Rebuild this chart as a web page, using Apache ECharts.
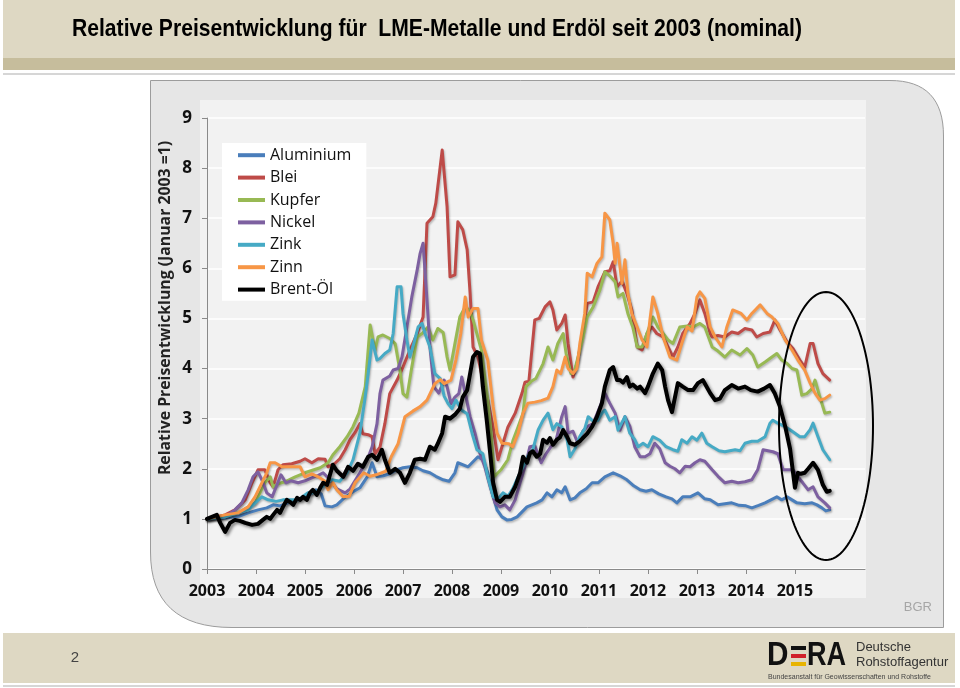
<!DOCTYPE html>
<html><head><meta charset="utf-8">
<script src="https://cdn.jsdelivr.net/npm/echarts@6/dist/echarts.min.js"></script>
<style>html,body{margin:0;padding:0;background:#fff}#c{width:960px;height:688px}</style>
</head><body><div id="c"></div>
<script>
const titleText = 'Relative Preisentwicklung für  LME-Metalle und Erdöl seit 2003 (nominal)';
const yAxisTitle = 'Relative Preisentwicklung (Januar 2003 =1)';
const seriesNames = ['Aluminium','Blei','Kupfer','Nickel','Zink','Zinn','Brent-Öl'];
const seriesColors = ['#4a7ebb','#be4b48','#98b954','#7d60a0','#46aac5','#f79646','#000000'];
const yearTicks = [2003,2004,2005,2006,2007,2008,2009,2010,2011,2012,2013,2014,2015];

const aluminium = [[2003.0,1.0],[2003.37,1.02],[2003.65,1.05],[2003.84,1.12],[2004.04,1.18],[2004.22,1.22],[2004.35,1.28],[2004.49,1.26],[2004.65,1.32],[2004.8,1.36],[2004.96,1.42],[2005.12,1.5],[2005.22,1.58],[2005.33,1.5],[2005.41,1.26],[2005.55,1.24],[2005.65,1.28],[2005.78,1.4],[2005.94,1.52],[2006.12,1.62],[2006.27,1.84],[2006.37,2.12],[2006.47,1.84],[2006.6,1.86],[2006.73,1.9],[2006.88,1.98],[2007.0,2.02],[2007.14,2.04],[2007.29,2.02],[2007.41,1.96],[2007.55,1.92],[2007.67,1.85],[2007.82,1.78],[2007.94,1.75],[2008.06,1.92],[2008.12,2.12],[2008.33,2.04],[2008.53,2.24],[2008.63,2.18],[2008.73,1.92],[2008.82,1.52],[2008.92,1.18],[2009.02,1.04],[2009.12,0.98],[2009.22,0.99],[2009.33,1.04],[2009.53,1.24],[2009.73,1.32],[2009.84,1.38],[2009.94,1.52],[2010.04,1.44],[2010.14,1.58],[2010.24,1.52],[2010.31,1.64],[2010.41,1.38],[2010.51,1.42],[2010.61,1.52],[2010.74,1.6],[2010.86,1.72],[2010.98,1.72],[2011.12,1.84],[2011.29,1.92],[2011.43,1.86],[2011.57,1.78],[2011.71,1.66],[2011.84,1.58],[2011.96,1.55],[2012.08,1.58],[2012.22,1.5],[2012.37,1.44],[2012.49,1.4],[2012.59,1.32],[2012.71,1.44],[2012.86,1.44],[2013.02,1.52],[2013.16,1.4],[2013.27,1.38],[2013.43,1.28],[2013.57,1.3],[2013.71,1.32],[2013.86,1.27],[2014.0,1.26],[2014.12,1.22],[2014.26,1.27],[2014.39,1.32],[2014.51,1.38],[2014.63,1.44],[2014.73,1.38],[2014.84,1.44],[2014.94,1.38],[2015.04,1.32],[2015.2,1.3],[2015.35,1.32],[2015.45,1.28],[2015.55,1.22],[2015.63,1.16],[2015.71,1.18]];

const blei = [[2003.0,1.0],[2003.37,1.08],[2003.57,1.18],[2003.78,1.38],[2003.92,1.72],[2004.04,1.98],[2004.18,1.98],[2004.29,1.72],[2004.35,1.64],[2004.45,1.98],[2004.55,2.08],[2004.73,2.1],[2004.9,2.15],[2005.0,2.2],[2005.14,2.12],[2005.27,2.2],[2005.41,2.19],[2005.47,2.04],[2005.6,2.1],[2005.71,2.2],[2005.82,2.38],[2005.92,2.58],[2006.02,2.72],[2006.12,2.9],[2006.18,2.7],[2006.29,2.68],[2006.37,2.64],[2006.43,2.3],[2006.53,2.43],[2006.63,2.9],[2006.73,3.5],[2006.88,3.77],[2007.0,4.03],[2007.14,4.37],[2007.29,4.7],[2007.41,5.03],[2007.49,6.9],[2007.61,7.03],[2007.67,7.3],[2007.8,8.36],[2007.9,7.23],[2007.96,5.83],[2008.06,5.87],[2008.12,6.93],[2008.22,6.77],[2008.31,6.37],[2008.37,5.5],[2008.43,4.43],[2008.53,4.23],[2008.63,3.77],[2008.73,3.37],[2008.84,2.83],[2008.94,2.18],[2009.02,2.44],[2009.14,2.83],[2009.29,3.11],[2009.43,3.51],[2009.49,3.73],[2009.57,3.75],[2009.69,4.97],[2009.78,5.0],[2009.9,5.23],[2010.0,5.33],[2010.06,5.17],[2010.14,4.77],[2010.24,4.9],[2010.31,5.07],[2010.37,4.5],[2010.47,3.83],[2010.57,4.17],[2010.67,4.75],[2010.76,5.3],[2010.88,5.33],[2010.98,5.63],[2011.12,5.93],[2011.22,5.95],[2011.29,6.13],[2011.37,5.63],[2011.47,5.75],[2011.57,5.5],[2011.67,5.17],[2011.78,4.43],[2011.88,4.37],[2011.98,4.7],[2012.08,4.83],[2012.18,4.7],[2012.31,4.63],[2012.41,4.43],[2012.51,4.23],[2012.61,4.43],[2012.71,4.7],[2012.86,4.9],[2012.96,5.1],[2013.06,5.37],[2013.16,5.1],[2013.27,4.7],[2013.31,4.63],[2013.43,4.66],[2013.57,4.63],[2013.71,4.73],[2013.84,4.7],[2013.98,4.8],[2014.12,4.77],[2014.22,4.63],[2014.35,4.7],[2014.49,4.73],[2014.59,4.97],[2014.69,4.78],[2014.84,4.53],[2014.96,4.4],[2015.1,4.17],[2015.2,4.03],[2015.31,4.5],[2015.37,4.5],[2015.47,4.1],[2015.57,3.9],[2015.71,3.77]];

const kupfer = [[2003.0,1.0],[2003.4,1.05],[2003.7,1.15],[2003.98,1.32],[2004.18,1.72],[2004.29,1.84],[2004.35,1.64],[2004.45,1.7],[2004.59,1.74],[2004.8,1.84],[2005.0,1.92],[2005.15,1.97],[2005.31,2.02],[2005.47,2.12],[2005.57,2.28],[2005.71,2.44],[2005.86,2.64],[2005.98,2.84],[2006.1,3.11],[2006.23,3.64],[2006.33,4.87],[2006.43,4.37],[2006.49,4.63],[2006.59,4.67],[2006.73,4.6],[2006.84,4.5],[2006.94,3.95],[2007.0,3.5],[2007.08,3.43],[2007.18,4.03],[2007.29,4.63],[2007.39,4.7],[2007.51,4.83],[2007.61,4.57],[2007.71,4.8],[2007.82,4.72],[2007.9,4.23],[2007.96,3.97],[2008.06,4.5],[2008.16,5.03],[2008.27,5.23],[2008.37,5.15],[2008.43,4.97],[2008.6,4.37],[2008.73,3.37],[2008.8,2.72],[2008.86,1.84],[2009.0,1.98],[2009.14,2.18],[2009.25,2.58],[2009.35,2.84],[2009.45,3.11],[2009.51,3.64],[2009.61,3.74],[2009.71,3.8],[2009.86,4.1],[2009.96,4.43],[2010.06,4.17],[2010.16,4.5],[2010.27,4.7],[2010.33,4.3],[2010.43,3.9],[2010.5,3.95],[2010.67,4.6],[2010.76,5.03],[2010.88,5.23],[2011.02,5.57],[2011.12,5.93],[2011.22,5.85],[2011.33,5.73],[2011.39,5.43],[2011.49,5.5],[2011.59,5.1],[2011.69,4.83],[2011.78,4.43],[2011.88,4.43],[2011.98,4.7],[2012.1,5.03],[2012.2,4.83],[2012.31,4.7],[2012.41,4.57],[2012.51,4.5],[2012.65,4.83],[2012.8,4.85],[2012.92,4.83],[2013.06,4.9],[2013.16,4.83],[2013.31,4.43],[2013.43,4.35],[2013.57,4.23],[2013.71,4.37],[2013.88,4.27],[2014.02,4.4],[2014.14,4.27],[2014.24,4.03],[2014.39,4.13],[2014.53,4.23],[2014.63,4.3],[2014.73,4.17],[2014.84,4.1],[2014.94,4.0],[2015.04,3.97],[2015.14,3.47],[2015.24,3.5],[2015.35,3.6],[2015.41,3.77],[2015.51,3.43],[2015.61,3.11],[2015.71,3.13]];

const nickel = [[2003.0,1.0],[2003.37,1.04],[2003.57,1.18],[2003.71,1.32],[2003.84,1.58],[2003.94,1.84],[2004.04,1.94],[2004.12,1.78],[2004.22,1.52],[2004.33,1.44],[2004.51,1.88],[2004.61,1.72],[2004.71,1.76],[2004.86,1.72],[2005.0,1.76],[2005.14,1.82],[2005.27,1.87],[2005.37,1.92],[2005.51,1.78],[2005.65,1.6],[2005.82,1.52],[2005.92,1.6],[2006.12,1.92],[2006.27,2.18],[2006.37,2.44],[2006.47,2.9],[2006.53,3.5],[2006.59,3.77],[2006.73,3.85],[2006.8,3.97],[2006.9,4.0],[2006.98,4.23],[2007.08,4.83],[2007.18,5.43],[2007.29,5.97],[2007.35,6.3],[2007.41,6.5],[2007.49,5.37],[2007.55,4.43],[2007.63,3.64],[2007.73,3.51],[2007.84,3.77],[2007.9,3.64],[2007.98,3.3],[2008.06,3.43],[2008.14,3.5],[2008.2,3.83],[2008.27,3.51],[2008.37,3.04],[2008.47,2.71],[2008.57,2.31],[2008.67,2.04],[2008.78,1.64],[2008.88,1.32],[2008.98,1.24],[2009.08,1.28],[2009.18,1.18],[2009.29,1.38],[2009.39,1.72],[2009.49,2.04],[2009.59,2.44],[2009.69,2.46],[2009.82,2.12],[2009.92,2.3],[2010.02,2.44],[2010.12,2.55],[2010.24,3.04],[2010.31,3.24],[2010.37,2.71],[2010.47,2.75],[2010.57,2.51],[2010.67,2.75],[2010.76,2.84],[2010.88,2.9],[2011.02,3.24],[2011.12,3.51],[2011.22,3.31],[2011.33,3.11],[2011.43,2.77],[2011.53,3.04],[2011.63,2.85],[2011.73,2.44],[2011.84,2.24],[2011.94,2.24],[2012.04,2.3],[2012.14,2.51],[2012.24,2.4],[2012.35,2.12],[2012.45,2.05],[2012.55,2.0],[2012.65,1.92],[2012.76,2.05],[2012.86,2.04],[2012.96,2.12],[2013.06,2.18],[2013.16,2.15],[2013.31,1.98],[2013.43,1.85],[2013.57,1.72],[2013.71,1.75],[2013.84,1.72],[2013.98,1.74],[2014.12,1.78],[2014.24,1.98],[2014.35,2.38],[2014.45,2.36],[2014.55,2.34],[2014.65,2.3],[2014.76,1.98],[2014.86,1.98],[2014.96,1.98],[2015.06,1.84],[2015.16,1.72],[2015.27,1.58],[2015.37,1.64],[2015.47,1.44],[2015.61,1.32],[2015.71,1.22]];

const zink = [[2003.0,1.0],[2003.37,1.04],[2003.63,1.12],[2003.84,1.18],[2003.98,1.32],[2004.12,1.44],[2004.25,1.38],[2004.41,1.35],[2004.55,1.38],[2004.69,1.38],[2004.86,1.38],[2005.06,1.52],[2005.2,1.52],[2005.33,1.62],[2005.45,1.72],[2005.55,1.78],[2005.71,1.75],[2005.86,1.92],[2005.98,2.18],[2006.12,2.71],[2006.22,3.37],[2006.29,3.9],[2006.37,4.57],[2006.47,4.17],[2006.53,4.2],[2006.63,4.3],[2006.73,4.37],[2006.8,4.7],[2006.88,5.63],[2006.96,5.63],[2007.0,5.1],[2007.08,4.57],[2007.14,4.23],[2007.22,4.5],[2007.31,4.83],[2007.39,4.9],[2007.45,4.7],[2007.55,4.43],[2007.65,3.9],[2007.76,3.8],[2007.84,3.45],[2007.92,3.3],[2008.0,3.2],[2008.08,3.37],[2008.2,3.17],[2008.31,3.1],[2008.41,2.71],[2008.51,2.38],[2008.63,2.3],[2008.73,1.84],[2008.84,1.44],[2008.94,1.4],[2009.04,1.52],[2009.14,1.45],[2009.24,1.6],[2009.35,1.84],[2009.45,2.04],[2009.55,2.25],[2009.65,2.38],[2009.76,2.78],[2009.86,2.97],[2009.96,3.11],[2010.06,2.78],[2010.14,2.9],[2010.24,2.84],[2010.35,2.58],[2010.41,2.24],[2010.51,2.4],[2010.61,2.65],[2010.71,2.8],[2010.78,3.04],[2010.88,2.95],[2010.98,2.97],[2011.06,3.11],[2011.12,3.17],[2011.22,2.97],[2011.33,3.04],[2011.39,2.77],[2011.53,3.04],[2011.63,2.71],[2011.73,2.58],[2011.8,2.44],[2011.9,2.51],[2012.0,2.44],[2012.1,2.64],[2012.24,2.57],[2012.37,2.44],[2012.51,2.38],[2012.61,2.35],[2012.69,2.58],[2012.8,2.51],[2012.9,2.64],[2013.0,2.57],[2013.1,2.71],[2013.2,2.51],[2013.31,2.44],[2013.45,2.36],[2013.57,2.34],[2013.67,2.36],[2013.78,2.38],[2013.88,2.36],[2013.98,2.51],[2014.12,2.55],[2014.24,2.55],[2014.39,2.64],[2014.49,2.91],[2014.55,2.97],[2014.65,2.91],[2014.8,2.84],[2014.9,2.78],[2015.0,2.71],[2015.1,2.64],[2015.2,2.64],[2015.31,2.78],[2015.37,2.91],[2015.47,2.64],[2015.57,2.38],[2015.71,2.18]];

const zinn = [[2003.0,1.0],[2003.37,1.08],[2003.63,1.12],[2003.84,1.24],[2003.98,1.44],[2004.12,1.72],[2004.22,1.92],[2004.29,2.12],[2004.39,2.12],[2004.53,2.04],[2004.75,2.04],[2004.9,2.04],[2005.0,1.84],[2005.14,1.9],[2005.27,1.84],[2005.41,1.75],[2005.47,1.58],[2005.57,1.72],[2005.65,1.58],[2005.78,1.44],[2005.9,1.45],[2006.02,1.72],[2006.2,1.92],[2006.33,1.85],[2006.45,1.88],[2006.65,1.95],[2006.76,2.24],[2006.9,2.5],[2007.04,3.04],[2007.2,3.15],[2007.35,3.24],[2007.49,3.37],[2007.65,3.7],[2007.76,3.78],[2007.84,3.7],[2007.98,3.77],[2008.08,4.17],[2008.18,4.7],[2008.27,5.43],[2008.33,5.03],[2008.43,5.2],[2008.53,5.2],[2008.6,4.57],[2008.73,4.17],[2008.84,3.24],[2008.92,2.71],[2009.02,2.51],[2009.16,2.5],[2009.24,2.44],[2009.35,2.71],[2009.45,3.11],[2009.55,3.31],[2009.69,3.33],[2009.82,3.36],[2009.96,3.41],[2010.06,3.64],[2010.14,3.97],[2010.22,3.9],[2010.31,4.23],[2010.37,4.0],[2010.47,3.9],[2010.55,4.0],[2010.61,4.5],[2010.71,5.1],[2010.76,5.9],[2010.86,5.83],[2010.96,6.1],[2011.06,6.23],[2011.12,7.1],[2011.22,6.97],[2011.29,6.5],[2011.33,6.1],[2011.37,6.5],[2011.47,5.7],[2011.53,6.17],[2011.59,5.5],[2011.67,5.1],[2011.78,4.83],[2011.88,4.57],[2011.98,4.43],[2012.04,4.97],[2012.1,5.43],[2012.2,5.1],[2012.31,4.63],[2012.45,4.23],[2012.59,4.17],[2012.69,4.5],[2012.8,4.83],[2012.9,4.75],[2013.0,5.43],[2013.06,5.53],[2013.16,5.4],[2013.27,4.83],[2013.37,4.63],[2013.51,4.43],[2013.61,4.83],[2013.73,5.17],[2013.9,5.1],[2014.02,4.97],[2014.12,5.1],[2014.29,5.27],[2014.43,5.1],[2014.53,5.03],[2014.65,4.9],[2014.8,4.57],[2014.94,4.37],[2015.06,4.17],[2015.2,3.97],[2015.31,3.71],[2015.41,3.51],[2015.51,3.37],[2015.61,3.4],[2015.71,3.47]];

const brent = [[2003.0,1.0],[2003.2,1.08],[2003.27,0.92],[2003.37,0.74],[2003.47,0.92],[2003.57,0.98],[2003.67,0.96],[2003.78,0.92],[2003.92,0.88],[2004.04,0.9],[2004.14,0.98],[2004.22,1.04],[2004.29,1.0],[2004.35,1.08],[2004.43,1.18],[2004.49,1.12],[2004.55,1.24],[2004.63,1.38],[2004.69,1.34],[2004.76,1.28],[2004.84,1.42],[2004.9,1.38],[2004.96,1.44],[2005.04,1.38],[2005.1,1.52],[2005.16,1.58],[2005.24,1.48],[2005.31,1.62],[2005.37,1.72],[2005.45,1.68],[2005.51,1.88],[2005.57,2.08],[2005.65,1.96],[2005.78,1.84],[2005.88,2.04],[2005.98,1.96],[2006.08,2.1],[2006.18,2.04],[2006.29,2.24],[2006.37,2.28],[2006.47,2.18],[2006.57,2.38],[2006.63,2.18],[2006.73,1.92],[2006.84,2.0],[2006.94,1.92],[2007.04,1.72],[2007.14,1.92],[2007.24,2.18],[2007.35,2.2],[2007.45,2.18],[2007.55,2.44],[2007.65,2.38],[2007.71,2.5],[2007.8,2.71],[2007.86,3.04],[2007.96,3.0],[2008.06,3.08],[2008.16,3.2],[2008.22,3.43],[2008.31,3.57],[2008.37,3.9],[2008.43,4.23],[2008.51,4.33],[2008.57,4.3],[2008.63,3.64],[2008.71,2.97],[2008.78,2.31],[2008.84,1.72],[2008.92,1.38],[2008.98,1.34],[2009.08,1.44],[2009.18,1.44],[2009.29,1.64],[2009.39,1.92],[2009.45,2.24],[2009.53,2.12],[2009.59,2.31],[2009.65,2.35],[2009.73,2.24],[2009.8,2.3],[2009.86,2.58],[2009.94,2.52],[2010.0,2.61],[2010.06,2.48],[2010.14,2.58],[2010.2,2.62],[2010.27,2.77],[2010.35,2.64],[2010.41,2.51],[2010.51,2.48],[2010.61,2.55],[2010.76,2.7],[2010.86,2.84],[2010.96,3.04],[2011.06,3.31],[2011.12,3.64],[2011.22,3.97],[2011.29,4.03],[2011.37,3.77],[2011.43,3.77],[2011.49,3.72],[2011.57,3.83],[2011.63,3.64],[2011.69,3.68],[2011.78,3.6],[2011.84,3.64],[2011.94,3.51],[2012.0,3.64],[2012.1,3.9],[2012.2,4.1],[2012.29,3.97],[2012.35,3.64],[2012.41,3.37],[2012.49,3.13],[2012.55,3.42],[2012.61,3.71],[2012.71,3.64],[2012.82,3.57],[2012.92,3.57],[2013.02,3.71],[2013.12,3.77],[2013.27,3.51],[2013.37,3.37],[2013.47,3.4],[2013.57,3.57],[2013.71,3.67],[2013.84,3.6],[2013.98,3.64],[2014.1,3.57],[2014.24,3.54],[2014.37,3.6],[2014.49,3.67],[2014.59,3.5],[2014.69,3.25],[2014.8,2.85],[2014.9,2.4],[2015.0,1.62],[2015.06,1.92],[2015.12,1.9],[2015.2,1.92],[2015.27,2.0],[2015.37,2.12],[2015.47,1.98],[2015.57,1.68],[2015.65,1.54],[2015.71,1.56]];

const seriesData = [aluminium, blei, kupfer, nickel, zink, zinn, brent];

// decorative outline helpers (panel frame and annotation ellipse)
function quadPts(p0, c, p1, n) {
  const pts = [];
  for (let k = 0; k <= n; k++) {
    const t = k / n, u = 1 - t;
    pts.push([u*u*p0[0] + 2*u*t*c[0] + t*t*p1[0], u*u*p0[1] + 2*u*t*c[1] + t*t*p1[1]]);
  }
  return pts;
}
const panelPts = [[150.5,80.5]]
  .concat(quadPts([890,80.5],[943.5,80.5],[943.5,136],16))
  .concat([[943.5,627.5]])
  .concat(quadPts([232,627.5],[150.5,627.5],[150.5,552],16));
const ellipsePts = [];
for (let k = 0; k < 120; k++) {
  const a = k / 120 * Math.PI * 2;
  ellipsePts.push([826 + 47*Math.cos(a), 426 + 134*Math.sin(a)]);
}

const chart = echarts.init(document.getElementById('c'), null, {renderer:'canvas'});
const FONT = '"Open Sans", "DejaVu Sans", sans-serif';

const series = seriesNames.map((name, i) => {
  const isOil = name === 'Brent-Öl';
  return {
    name, type:'line', data: seriesData[i], showSymbol:false, symbol:'none',
    smooth:false, animation:false,
    lineStyle:{
      color: seriesColors[i], width: isOil ? 4 : 3,
      shadowColor: isOil ? 'rgba(0,0,0,0.45)' : 'rgba(0,0,0,0.25)',
      shadowBlur: isOil ? 3 : 2, shadowOffsetX: isOil ? 2 : 1, shadowOffsetY: isOil ? 2 : 1.5,
      join:'round', cap:'round'
    },
    itemStyle:{color: seriesColors[i]}, z: 2 + i
  };
});

chart.setOption({
  animation:false,
  backgroundColor:'#ffffff',
  grid:{left:207, right:95, top:118, bottom:119, containLabel:false},
  legend:{
    orient:'vertical', left:222, top:143,
    backgroundColor:'#ffffff', padding:[1,15,0,16],
    icon:'rect', itemWidth:27, itemHeight:4, itemGap:0,
    textStyle:{fontFamily:FONT, fontSize:16, color:'#111', lineHeight:22.4},
    data: seriesNames, selectedMode:false
  },
  xAxis:{
    type:'value', min:2003, max:2016.43,
    axisLine:{show:true, lineStyle:{color:'#8a8a8a', width:1}},
    axisTick:{show:true, customValues:yearTicks, length:5, inside:false, lineStyle:{color:'#8a8a8a'}},
    axisLabel:{customValues:yearTicks, formatter:v=>String(Math.round(v)), fontFamily:FONT, fontWeight:'bold', fontSize:16, color:'#111', margin:14},
    splitLine:{show:false}
  },
  yAxis:{
    type:'value', min:0, max:9, interval:1,
    axisLine:{show:true, lineStyle:{color:'#8a8a8a', width:1}},
    axisTick:{show:true, length:5, inside:false, lineStyle:{color:'#8a8a8a'}},
    axisLabel:{fontFamily:FONT, fontWeight:'bold', fontSize:17, color:'#111', margin:15},
    splitLine:{show:true, lineStyle:{color:'#ffffff', width:1.5}}
  },
  series,
  graphic:[
    {type:'rect', shape:{x:3,y:0,width:952,height:58}, style:{fill:'#ded8c3'}, z:-30, silent:true},
    {type:'rect', shape:{x:3,y:58,width:952,height:12}, style:{fill:'#c6bd9c'}, z:-30, silent:true},
    {type:'rect', shape:{x:3,y:73,width:952,height:2}, style:{fill:'#d6d6d6'}, z:-30, silent:true},
    {type:'text', x:72, y:29, scaleX:0.88, z:-10, silent:true,
      style:{text:titleText, font:'bold 24px "Liberation Sans", Arial, sans-serif', fill:'#000', verticalAlign:'middle', align:'left'}},
    {type:'polygon', z:-25, silent:true, shape:{points:panelPts},
      style:{fill:'#e6e6e6', stroke:'#9c9c9c', lineWidth:1}},
    {type:'rect', shape:{x:200,y:100,width:666,height:498}, style:{fill:'#f2f2f2'}, z:-20, silent:true},
    {type:'text', x:165, y:308, rotation:Math.PI/2, z:10, silent:true,
      style:{text:yAxisTitle, font:'bold 15.8px "Open Sans", "DejaVu Sans", sans-serif', fill:'#222', align:'center', verticalAlign:'middle'}},
    {type:'polygon', z:100, silent:true, shape:{points:ellipsePts},
      style:{fill:'none', stroke:'#000', lineWidth:2}},
    {type:'text', x:932, y:607, z:10, silent:true,
      style:{text:'BGR', font:'13px "Liberation Sans", Arial, sans-serif', fill:'#a6a6a6', align:'right', verticalAlign:'middle'}},
    {type:'rect', shape:{x:3,y:633,width:952,height:50}, style:{fill:'#ded8c3'}, z:-30, silent:true},
    {type:'rect', shape:{x:3,y:685,width:952,height:2}, style:{fill:'#d6d6d6'}, z:-30, silent:true},
    {type:'text', x:75, y:658, z:10, silent:true,
      style:{text:'2', font:'15px "Liberation Sans", Arial, sans-serif', fill:'#444', align:'center', verticalAlign:'middle'}},
    {type:'text', x:767, y:656, scaleX:0.9, z:10, silent:true,
      style:{text:'D', font:'bold 33px "Liberation Sans", Arial, sans-serif', fill:'#111', align:'left', verticalAlign:'middle'}},
    {type:'rect', shape:{x:791,y:646,width:15,height:4}, style:{fill:'#111'}, z:10, silent:true},
    {type:'rect', shape:{x:791,y:654,width:15,height:4}, style:{fill:'#d0202a'}, z:10, silent:true},
    {type:'rect', shape:{x:791,y:662,width:15,height:4}, style:{fill:'#e8b400'}, z:10, silent:true},
    {type:'text', x:807, y:656, scaleX:0.82, z:10, silent:true,
      style:{text:'RA', font:'bold 33px "Liberation Sans", Arial, sans-serif', fill:'#111', align:'left', verticalAlign:'middle'}},
    {type:'text', x:856, y:647, z:10, silent:true,
      style:{text:'Deutsche', font:'13px "Liberation Sans", Arial, sans-serif', fill:'#333', align:'left', verticalAlign:'middle'}},
    {type:'text', x:856, y:662, z:10, silent:true,
      style:{text:'Rohstoffagentur', font:'13px "Liberation Sans", Arial, sans-serif', fill:'#333', align:'left', verticalAlign:'middle'}},
    {type:'text', x:768, y:677, z:10, silent:true,
      style:{text:'Bundesanstalt für Geowissenschaften und Rohstoffe', font:'7px "Liberation Sans", Arial, sans-serif', fill:'#444', align:'left', verticalAlign:'middle'}}
  ]
});
</script>
</body></html>
